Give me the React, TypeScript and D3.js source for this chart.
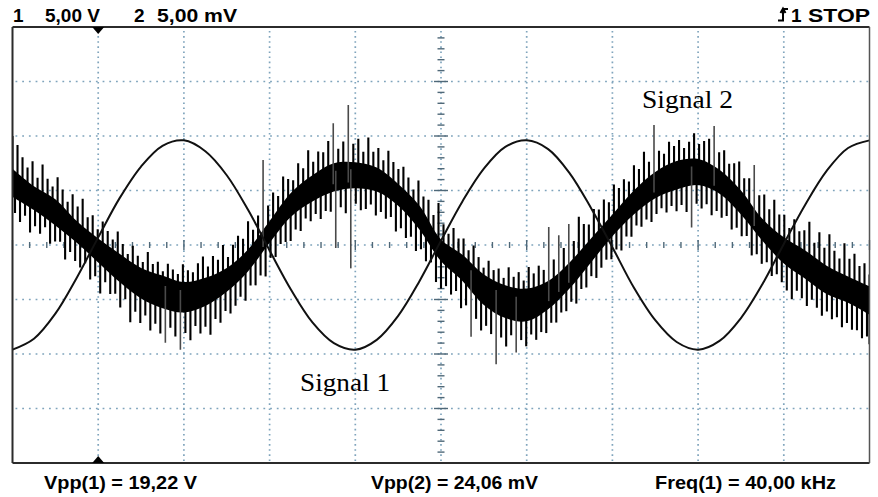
import React from 'react';
import * as d3 from 'd3';

const W = 878;
const H = 497;

// ---------- data ----------
// time axis: 10 divisions, 6.25 µs/div ; samples every quarter division
const usPerDiv = 6.25;
const xDivisions = 10;
const yDivisions = 8;
const sampleStepUs = 1.5625;

// Channel 1 (V), 5 V/div – thin sine
const signal1Volts = [
  -9.6, -8.6, -6.3, -3.0, 0.7, 4.3, 7.2, 9.1, 9.6, 8.6, 6.4, 3.2, -0.5, -4.1,
  -7.1, -9.0, -9.6, -8.7, -6.5, -3.3, 0.4, 4.0, 7.0, 9.0, 9.6, 8.8, 6.6, 3.4,
  -0.2, -3.9, -6.9, -8.9, -9.6, -8.8, -6.7, -3.6, 0.1, 3.7, 6.8, 8.9, 9.6,
];

// Channel 2 (mV), 5 mV/div – noisy trace: mean level of the dense band
const signal2MeanMv = [
  5.7, 4.3, 3.0, 1.2, -0.5, -2.1, -3.5, -4.3, -4.8, -4.3, -3.2, -1.4, 1.2, 3.7,
  5.2, 6.2, 6.4, 6.0, 4.6, 2.5, -0.5, -2.1, -4.1, -5.2, -5.5, -4.6, -2.8, -0.5,
  1.8, 3.9, 5.5, 6.4, 6.7, 5.8, 3.9, 1.4, -0.5, -1.8, -3.2, -4.1, -5.1,
];
// half thickness of the dense black core (mV)
const signal2CoreHalfMv = [
  1.3, 1.1, 1.2, 1.0, 1.1, 1.3, 1.4, 1.5, 1.4, 1.3, 1.1, 1.0, 1.0, 1.1, 1.2,
  1.3, 1.2, 1.1, 1.0, 1.1, 1.0, 1.2, 1.4, 1.5, 1.5, 1.3, 1.2, 1.1, 1.0, 1.1,
  1.2, 1.3, 1.2, 1.1, 1.1, 1.0, 1.2, 1.3, 1.3, 1.2, 1.3,
];
// noise excursions above / below the band (mV), evenly spaced across the screen
const signal2SpikeUpMv = [
  4.3, 3.8, 3.0, 2.4, 3.3, 2.1, 3.6, 2.6, 2.2, 3.4,
  2.7, 2.0, 3.1, 2.4, 3.5, 2.2, 2.8, 1.9, 3.0, 2.5,
  2.1, 3.2, 2.4, 1.8, 2.9, 2.3, 2.0, 3.1, 2.2, 2.6,
  1.9, 2.7, 2.3, 2.0, 3.0, 2.4, 2.1, 2.8, 3.3, 2.2,
  2.9, 2.3, 3.4, 2.0, 2.7, 3.1, 2.4, 3.6, 2.2, 2.9,
  7.4, 2.6, 3.2, 2.3, 3.5, 2.7, 2.1, 3.3, 2.5, 3.8,
  2.4, 3.1, 2.8, 3.6, 5.0, 2.6, 3.2, 6.5, 2.9, 3.4,
  2.3, 3.7, 2.5, 3.0, 2.2, 3.4, 2.7, 2.4, 3.1, 2.6,
  2.0, 3.3, 2.5, 2.9, 2.2, 4.0, 2.6, 2.1, 3.0, 2.4,
  2.8, 2.2, 3.1, 2.5, 2.0, 2.9, 2.3, 2.7, 2.1, 3.2,
  2.4, 2.9, 2.2, 3.4, 2.6, 3.1, 2.5, 6.2, 2.8, 4.6,
  3.0, 4.8, 2.7, 4.4, 3.2, 2.6, 3.5, 2.9, 3.3, 2.5,
  3.6, 2.8, 3.1, 2.4, 3.4, 2.7, 3.9, 2.6, 5.6, 3.0,
  2.5, 3.4, 2.8, 3.2, 2.4, 2.9, 3.6, 2.6, 3.1, 3.5,
  4.9, 2.7, 3.3, 2.5, 3.0, 3.6, 2.6, 3.2, 5.0, 2.8,
  3.4, 2.5, 3.8, 2.9, 3.3, 2.4, 3.5, 2.7, 3.1, 4.2,
  2.6, 3.9, 2.8, 4.3, 3.0, 2.5, 4.1, 2.9, 3.6, 2.7,
  3.2, 2.4,
];
const signal2SpikeDownMv = [
  2.6, 3.1, 2.2, 3.4, 2.5, 2.9, 2.0, 3.2, 2.7, 2.3,
  3.5, 2.4, 2.8, 3.0, 2.2, 3.3, 2.6, 3.8, 2.4, 3.1,
  2.7, 3.6, 2.5, 4.3, 3.0, 3.7, 2.8, 4.0, 3.2, 3.9,
  4.6, 3.1, 3.8, 4.9, 3.3, 4.1, 2.9, 3.7, 3.2, 4.2,
  3.0, 3.6, 2.8, 3.4, 3.1, 2.7, 3.5, 2.6, 3.2, 2.9,
  3.6, 2.5, 3.0, 2.4, 2.8, 3.3, 2.6, 3.1, 2.3, 2.9,
  2.5, 3.2, 2.7, 3.0, 6.5, 2.8, 3.4, 8.5, 2.6, 3.1,
  2.9, 2.4, 3.3, 2.7, 3.0, 2.5, 3.5, 2.8, 3.2, 2.6,
  3.4, 2.7, 3.1, 2.5, 3.6, 3.5, 2.9, 3.3, 2.6, 3.8,
  3.1, 5.5, 3.4, 4.0, 3.2, 3.7, 6.2, 3.5, 4.1, 3.0,
  4.5, 3.3, 3.8, 2.9, 3.6, 3.1, 3.4, 2.8, 3.2, 2.7,
  3.0, 2.6, 3.3, 2.5, 2.9, 2.4, 3.1, 2.7, 2.5, 3.0,
  2.6, 3.2, 2.4, 2.9, 2.3, 2.8, 2.5, 3.1, 2.7, 2.4,
  3.0, 2.6, 3.3, 2.8, 3.5, 5.0, 2.9, 3.2, 2.6, 3.4,
  2.8, 3.1, 2.5, 3.3, 2.7, 3.0, 2.4, 3.6, 2.9, 3.2,
  2.6, 3.4, 2.8, 3.1, 3.5, 4.0, 2.9, 3.3, 3.7, 2.8,
  3.2, 3.6, 2.9, 3.4, 3.0, 3.7, 3.1, 3.5, 3.3, 3.8,
  3.4, 4.0,
];

const headerCh1 = '1';
const headerCh1Scale = '5,00 V';
const headerCh2 = '2';
const headerCh2Scale = '5,00 mV';
const headerTrigger = '1';
const headerState = 'STOP';
const footerLabels = ['Vpp(1) = 19,22 V', 'Vpp(2) = 24,06 mV', 'Freq(1) = 40,00 kHz'];
const signalLabels = ['Signal 1', 'Signal 2'];
const triggerTimeUs = 6.25;

// ---------- component ----------
export default function App() {
  const X0 = 12.5, X1 = 869.5, Y0 = 27, Y1 = 463;
  const totalUs = usPerDiv * xDivisions;
  const x = d3.scaleLinear().domain([0, totalUs]).range([X0, X1]);
  const yV = d3.scaleLinear().domain([-20, 20]).range([Y1, Y0]);
  const ymV = d3.scaleLinear().domain([-20, 20]).range([Y1, Y0]);
  const divW = (X1 - X0) / xDivisions;
  const divH = (Y1 - Y0) / yDivisions;
  const cx = x(totalUs / 2);
  const cy = yV(0);

  const times = signal1Volts.map((_, i) => i * sampleStepUs);
  const line1 = d3
    .line<number>()
    .x((_, i) => x(times[i]))
    .y((v) => yV(v))
    .curve(d3.curveCatmullRom);

  const core = d3
    .area<number>()
    .x((_, i) => x(times[i]))
    .y0((m, i) => ymV(m - signal2CoreHalfMv[i]))
    .y1((m, i) => ymV(m + signal2CoreHalfMv[i]))
    .curve(d3.curveCatmullRom);

  const meanAt = d3.scaleLinear().domain(times).range(signal2MeanMv);
  const nSp = signal2SpikeUpMv.length;
  const stepSp = totalUs / (nSp - 1);
  // upward excursions on one set of sample instants, downward ones half a step later
  const upSpikes = signal2SpikeUpMv.map((up, i) => {
    const t = i * stepSp;
    const m = meanAt(t);
    return { t, a: m - 0.6, b: m + up, big: up > 4.4 };
  });
  const downSpikes = signal2SpikeDownMv.map((dn, i) => {
    const t = Math.min(totalUs, i * stepSp + stepSp / 2);
    const m = meanAt(t);
    return { t, a: m + 0.6, b: m - dn, big: dn > 4.4 };
  });
  const spikes = [...upSpikes, ...downSpikes];

  const gridColor = '#7fa4bc';
  const vGrid = d3.range(1, xDivisions);
  const hGrid = d3.range(1, yDivisions);
  const vTicks = d3.range(0, yDivisions * 5 + 1);
  const hTicks = d3.range(0, xDivisions * 5 + 1);

  const font = "'Liberation Sans', Arial, Helvetica, sans-serif";
  const trigX = x(triggerTimeUs);

  return (
    <svg width={W} height={H} style={{ position: 'absolute', left: 0, top: 0, background: '#fff' }}>
      <defs>
        <clipPath id="scr">
          <rect x={X0} y={Y0} width={X1 - X0} height={Y1 - Y0} />
        </clipPath>
      </defs>
      <rect x={0} y={0} width={W} height={H} fill="#fff" />

      {/* grid */}
      {vGrid.map((k) => (
        <line key={'v' + k} x1={X0 + k * divW} x2={X0 + k * divW} y1={Y0 + 4} y2={Y1}
          stroke={gridColor} strokeWidth={1.7} strokeDasharray="1.6 3.5" />
      ))}
      {hGrid.map((k) => (
        <line key={'h' + k} x1={X0 + 3} x2={X1} y1={Y0 + k * divH} y2={Y0 + k * divH}
          stroke={gridColor} strokeWidth={1.7} strokeDasharray="1.8 4.9" />
      ))}
      {vTicks.map((k) => {
        const yy = Y0 + (k * divH) / 5;
        const w = k % 5 === 0 ? 7 : 3.5;
        return <line key={'vt' + k} x1={cx - w} x2={cx + w} y1={yy} y2={yy} stroke="#4f6878" strokeWidth={1.4} />;
      })}
      {hTicks.map((k) => {
        const xx = X0 + (k * divW) / 5;
        const h = k % 5 === 0 ? 5 : 3;
        return <line key={'ht' + k} x1={xx} x2={xx} y1={cy - h} y2={cy + h} stroke="#4f6878" strokeWidth={1.4} />;
      })}

      {/* traces */}
      <g clipPath="url(#scr)">
        <path d={core(signal2MeanMv) || ''} fill="#000" />
        {spikes.map((s, i) => (
          <line key={'s' + i} x1={x(s.t)} x2={x(s.t)} y1={ymV(s.a)} y2={ymV(s.b)}
            stroke={s.big ? '#4a4a4a' : '#000'} strokeWidth={s.big ? 1.6 : 2.1} />
        ))}
        <path d={line1(signal1Volts) || ''} fill="none" stroke="#111" strokeWidth={2} />
      </g>

      {/* frame */}
      <line x1={X0} x2={X1} y1={Y0} y2={Y0} stroke="#2b2b2b" strokeWidth={2} />
      <line x1={X0} x2={X1} y1={Y1} y2={Y1} stroke="#2b2b2b" strokeWidth={2} />
      <line x1={X0} x2={X0} y1={Y0} y2={Y1} stroke="#2b2b2b" strokeWidth={2} />
      <line x1={X1} x2={X1} y1={Y0} y2={Y1} stroke="#555" strokeWidth={1.5} />

      {/* trigger markers */}
      <path d={`M${trigX - 6},${Y0} L${trigX + 6},${Y0} L${trigX},${Y0 + 7} Z`} fill="#000" />
      <path d={`M${trigX - 6},${Y1} L${trigX + 6},${Y1} L${trigX},${Y1 - 7} Z`} fill="#000" />

      {/* header */}
      <g fontFamily={font} fontWeight="bold" fontSize={19} fill="#000">
        <text x={13} y={22}>{headerCh1}</text>
        <text x={45} y={22} textLength={55} lengthAdjust="spacingAndGlyphs">{headerCh1Scale}</text>
        <text x={134} y={22}>{headerCh2}</text>
        <text x={157} y={22} textLength={80} lengthAdjust="spacingAndGlyphs">{headerCh2Scale}</text>
        <text x={791} y={22}>{headerTrigger}</text>
        <text x={808} y={22} textLength={62} lengthAdjust="spacingAndGlyphs">{headerState}</text>
      </g>
      <path d="M778,20.5 L783,20.5 L783,9 L788,9 M780.5,13 L783,8.5 L785.5,13" fill="none" stroke="#000" strokeWidth={2} />

      {/* footer */}
      <g fontFamily={font} fontWeight="bold" fontSize={19} fill="#000">
        <text x={44} y={489} textLength={153} lengthAdjust="spacingAndGlyphs">{footerLabels[0]}</text>
        <text x={371} y={489} textLength={167} lengthAdjust="spacingAndGlyphs">{footerLabels[1]}</text>
        <text x={655} y={489} textLength={181} lengthAdjust="spacingAndGlyphs">{footerLabels[2]}</text>
      </g>

      {/* annotations */}
      <g fontFamily="'Liberation Serif', 'Times New Roman', serif" fontSize={26} fill="#000">
        <text x={300} y={391} textLength={90} lengthAdjust="spacingAndGlyphs">{signalLabels[0]}</text>
        <text x={642} y={108} textLength={91} lengthAdjust="spacingAndGlyphs">{signalLabels[1]}</text>
      </g>
    </svg>
  );
}
